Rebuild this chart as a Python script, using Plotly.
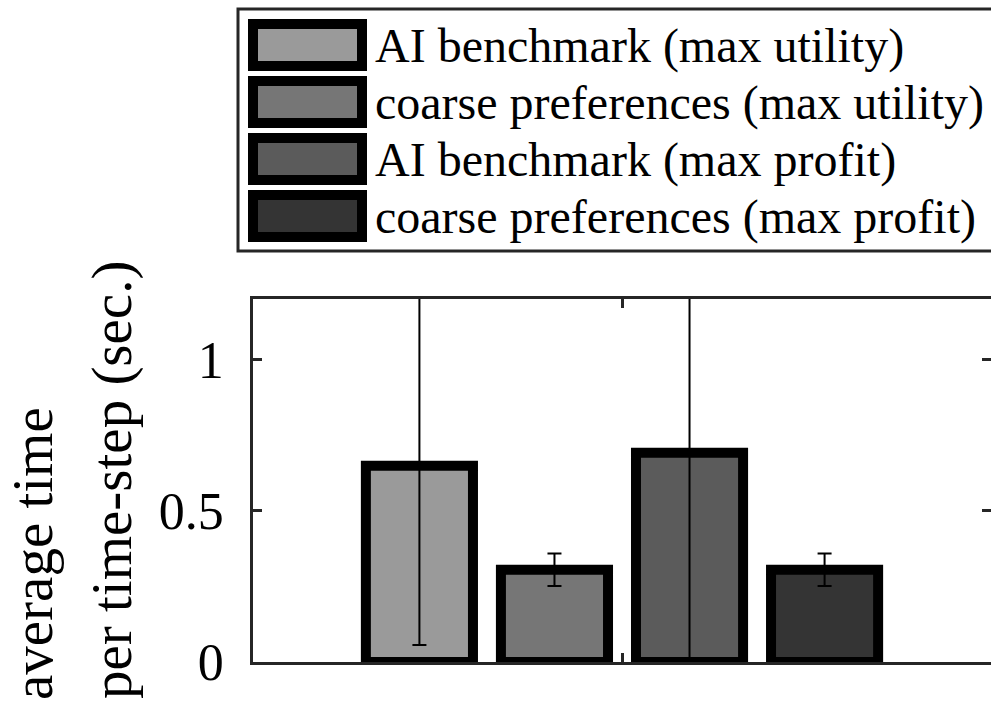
import plotly.graph_objects as go

# ---- data ----
series_names = [
    "AI benchmark (max utility)",
    "coarse preferences (max utility)",
    "AI benchmark (max profit)",
    "coarse preferences (max profit)",
]
mean_time = [0.649, 0.305, 0.692, 0.305]
err_time = [0.593, 0.054, 0.72, 0.054]
fill_colors = ["#9a9a9a", "#767676", "#5b5b5b", "#343434"]
category = ["all"]
y_tick_vals = [0, 0.5, 1]
y_tick_text = ["0", "0.5", "1"]
y_label_lines = ["average time", "per time-step (sec.)"]

# ---- layout geometry (pixels) ----
W, H = 991, 707
L, R, T, B = 253, 991, 299, 662
AX = "#262626"
FONT = "Times New Roman, Liberation Serif, serif"


def px(xp):
    return (xp - L) / (R - L)


def py(yp):
    return (B - yp) / (B - T)


fig = go.Figure()
for name, m, e, c in zip(series_names, mean_time, err_time, fill_colors):
    fig.add_trace(go.Bar(
        x=category, y=[m], name=name,
        marker=dict(color=c, line=dict(color="black", width=10)),
        error_y=dict(type="data", array=[e], symmetric=True,
                     color="black", thickness=2, width=7),
        showlegend=False,
    ))

shapes = []
annotations = []

# legend box
shapes.append(dict(type="rect", xref="paper", yref="paper",
                   x0=px(238), x1=px(1000), y0=py(251), y1=py(9),
                   line=dict(color=AX, width=3), fillcolor="white", layer="above"))
row_pitch = 57
for i, (name, c) in enumerate(zip(series_names, fill_colors)):
    top = 19 + i * row_pitch
    shapes.append(dict(type="rect", xref="paper", yref="paper",
                       x0=px(253), x1=px(362), y0=py(top + 47), y1=py(top + 5),
                       line=dict(color="black", width=10), fillcolor=c, layer="above"))
    annotations.append(dict(xref="paper", yref="paper", x=px(373), y=py(top + 27),
                            xanchor="left", yanchor="middle", showarrow=False,
                            text=name, font=dict(family=FONT, size=48, color="black")))

# y label (two lines)
annotations.append(dict(xref="paper", yref="paper", x=px(32), y=py(554),
                        xanchor="center", yanchor="middle", showarrow=False,
                        textangle=-90, text=y_label_lines[0],
                        font=dict(family=FONT, size=57, color="black")))
annotations.append(dict(xref="paper", yref="paper", x=px(112), y=py(480),
                        xanchor="center", yanchor="middle", showarrow=False,
                        textangle=-90, text=y_label_lines[1],
                        font=dict(family=FONT, size=57, color="black")))

fig.update_layout(
    width=W, height=H,
    margin=dict(l=L, r=W - R, t=T, b=H - B, autoexpand=False),
    paper_bgcolor="white", plot_bgcolor="white",
    barmode="group", bargap=0.268, bargroupgap=0.207,
    shapes=shapes, annotations=annotations,
    showlegend=False,
)
fig.update_xaxes(
    type="category", range=[-0.5, 0.5], showticklabels=False,
    ticks="inside", ticklen=9, tickwidth=2.5, tickcolor=AX,
    showline=True, linecolor=AX, linewidth=2.5, mirror="ticks",
    showgrid=False, zeroline=False, automargin=False,
)
fig.update_yaxes(
    range=[0, 1.2], tickvals=y_tick_vals, ticktext=y_tick_text,
    ticks="inside", ticklen=9, tickwidth=2.5, tickcolor=AX,
    showline=True, linecolor=AX, linewidth=2.5, mirror="ticks",
    showgrid=False, zeroline=False, automargin=False,
    tickfont=dict(family=FONT, size=52, color="black"),
    ticklabelstandoff=16,
)

fig.write_html(
    "out.html",
    config={"displayModeBar": False},
    post_script="document.body.style.margin='0px';document.body.style.overflow='hidden';",
)
